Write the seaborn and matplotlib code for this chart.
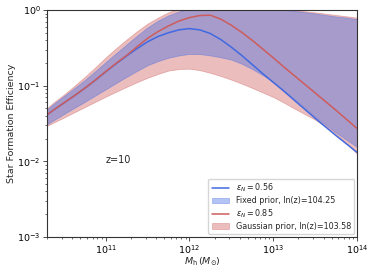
import numpy as np
import pandas as pd
import matplotlib
matplotlib.use("Agg")
import matplotlib.pyplot as plt
import seaborn as sns

# halo mass grid (log10 M_h / M_sun)
log_mh = [10.25, 10.375, 10.5, 10.625, 10.75, 10.875, 11.0, 11.125,
          11.25, 11.375, 11.5, 11.625, 11.75, 11.875, 12.0, 12.125,
          12.25, 12.375, 12.5, 12.625, 12.75, 12.875, 13.0, 13.125,
          13.25, 13.375, 13.5, 13.625, 13.75, 13.875, 14.0]

# log10 star formation efficiency
# fixed prior: best fit (eps_N = 0.56) and band
log_eff_fixed = [-1.43, -1.325, -1.23, -1.135, -1.035, -0.93, -0.818, -0.71,
                 -0.608, -0.51, -0.42, -0.35, -0.30, -0.262, -0.245, -0.262,
                 -0.31, -0.39, -0.49, -0.60, -0.72, -0.84, -0.955, -1.07,
                 -1.19, -1.31, -1.43, -1.545, -1.66, -1.77, -1.88]
log_fixed_hi = [-1.36, -1.245, -1.14, -1.035, -0.927, -0.81, -0.69, -0.572,
                -0.456, -0.34, -0.23, -0.14, -0.07, -0.02, 0.02, 0.04,
                0.05, 0.05, 0.05, 0.045, 0.04, 0.03, 0.02, 0.005,
                -0.01, -0.027, -0.045, -0.065, -0.085, -0.10, -0.12]
log_fixed_lo = [-1.545, -1.46, -1.377, -1.295, -1.216, -1.132, -1.05, -0.965,
                -0.884, -0.805, -0.73, -0.675, -0.63, -0.60, -0.58, -0.582,
                -0.60, -0.625, -0.655, -0.71, -0.78, -0.86, -0.95, -1.06,
                -1.175, -1.29, -1.41, -1.515, -1.62, -1.715, -1.81]

# gaussian prior: best fit (eps_N = 0.85) and band
log_eff_gauss = [-1.43, -1.325, -1.23, -1.135, -1.035, -0.928, -0.815, -0.705,
                 -0.60, -0.485, -0.375, -0.285, -0.21, -0.145, -0.10, -0.072,
                 -0.068, -0.12, -0.20, -0.295, -0.40, -0.515, -0.63, -0.75,
                 -0.865, -0.98, -1.095, -1.21, -1.325, -1.445, -1.565]
log_gauss_hi = [-1.35, -1.225, -1.12, -1.005, -0.886, -0.76, -0.627, -0.505,
                -0.39, -0.28, -0.18, -0.10, -0.03, 0.02, 0.05, 0.06,
                0.06, 0.06, 0.06, 0.055, 0.05, 0.045, 0.03, 0.015,
                0.0, -0.015, -0.03, -0.047, -0.065, -0.082, -0.10]
log_gauss_lo = [-1.56, -1.49, -1.423, -1.353, -1.284, -1.215, -1.146, -1.08,
                -1.016, -0.953, -0.896, -0.845, -0.80, -0.78, -0.775, -0.795,
                -0.83, -0.872, -0.92, -0.972, -1.03, -1.09, -1.15, -1.222,
                -1.30, -1.375, -1.45, -1.54, -1.64, -1.765, -1.90]

df = pd.DataFrame({
    "Mh": 10 ** np.array(log_mh),
    "fixed": 10 ** np.array(log_eff_fixed),
    "fixed_hi": 10 ** np.array(log_fixed_hi),
    "fixed_lo": 10 ** np.array(log_fixed_lo),
    "gauss": 10 ** np.array(log_eff_gauss),
    "gauss_hi": 10 ** np.array(log_gauss_hi),
    "gauss_lo": 10 ** np.array(log_gauss_lo),
})

sns.set_style("ticks")
plt.rcParams["font.family"] = ["DejaVu Sans"]
plt.rcParams["mathtext.fontset"] = "dejavusans"

fig = plt.figure(figsize=(3.73, 2.72), dpi=100)
ax = fig.add_axes([0.126, 0.129, 0.831, 0.834])

blue = "royalblue"
red = "indianred"

ax.fill_between(df["Mh"], df["gauss_lo"], df["gauss_hi"], color=red, alpha=0.4,
                linewidth=0.6, label="Gaussian prior, ln(z)=103.58")
ax.fill_between(df["Mh"], df["fixed_lo"], df["fixed_hi"], color=blue, alpha=0.4,
                linewidth=0.6, label="Fixed prior, ln(z)=104.25")
sns.lineplot(data=df, x="Mh", y="fixed", ax=ax, color=blue, linewidth=1.1,
             label=r"$\epsilon_N=0.56$")
sns.lineplot(data=df, x="Mh", y="gauss", ax=ax, color=red, linewidth=1.1,
             label=r"$\epsilon_N=0.85$")

ax.set_xscale("log")
ax.set_yscale("log")
ax.set_xlim(2e10, 1e14)
ax.set_ylim(1e-3, 1)

for s in ax.spines.values():
    s.set_color("#333333")
    s.set_linewidth(0.8)
ax.tick_params(which="major", labelsize=6.8, length=3, width=0.6, pad=1.5,
               colors="#333333", labelcolor="black")
ax.tick_params(which="minor", length=1.5, width=0.5, colors="#333333")

ax.set_xlabel(r"$M_{\rm h}\,(M_{\odot})$", fontsize=6.8, labelpad=0)
ax.set_ylabel("Star Formation Efficiency", fontsize=6.8, labelpad=1)

ax.text(1.0e11, 9.6e-3, "z=10", fontsize=7)

h, l = ax.get_legend_handles_labels()
order = [l.index(r"$\epsilon_N=0.56$"), l.index("Fixed prior, ln(z)=104.25"),
         l.index(r"$\epsilon_N=0.85$"), l.index("Gaussian prior, ln(z)=103.58")]
ax.legend([h[i] for i in order], [l[i] for i in order], loc="lower right",
          fontsize=5.8, frameon=True, handlelength=2.2, borderpad=0.4,
          labelspacing=0.25, borderaxespad=0.35)

plt.savefig("out.png", dpi=100)
